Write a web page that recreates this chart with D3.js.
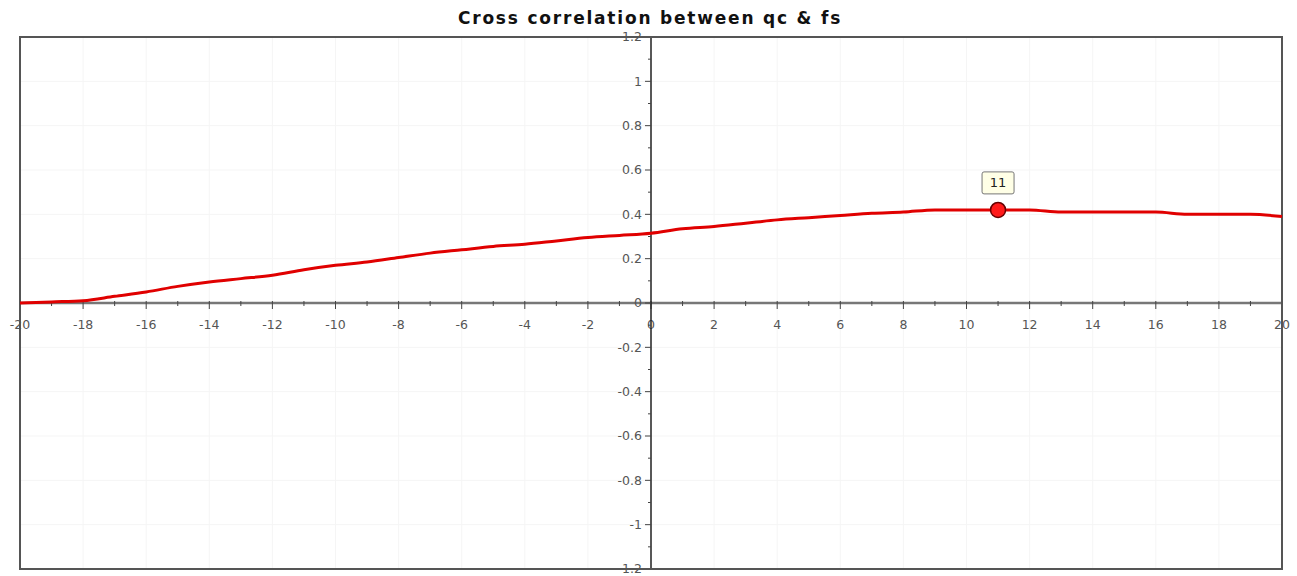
<!DOCTYPE html>
<html>
<head>
<meta charset="utf-8">
<script src="https://cdn.jsdelivr.net/npm/d3@7"></script>
<style>
  body { margin: 0; background: #fff; }
  text { font-family: "DejaVu Sans", Verdana, sans-serif; }
</style>
</head>
<body>
<script>
// lag values and cross correlation
var lags = d3.range(-20, 21);
var corr = [0.00, 0.005, 0.01, 0.03, 0.05, 0.075, 0.095, 0.11, 0.125, 0.15,
            0.17, 0.185, 0.205, 0.225, 0.24, 0.255, 0.265, 0.28, 0.295, 0.305,
            0.315, 0.335, 0.345, 0.36, 0.375, 0.385, 0.395, 0.405, 0.41, 0.42,
            0.42, 0.42, 0.42, 0.41, 0.41, 0.41, 0.41, 0.40, 0.40, 0.40, 0.39];
var markLag = 11;
var title = "Cross correlation between qc & fs";

var data = lags.map(function(l, i){ return {lag: l, r: corr[i]}; });

var W = 1297, H = 576,
    pl = 20, pr = 1282, pt = 37, pb = 569;

var svg = d3.select("body").append("svg")
    .attr("width", W).attr("height", H);

var x = d3.scaleLinear().domain([-20, 20]).range([pl, pr]);
var y = d3.scaleLinear().domain([-1.2, 1.2]).range([pb, pt]);

// faint grid
var grid = svg.append("g");
grid.selectAll("line.v").data(d3.range(-20, 21, 2)).enter().append("line")
    .attr("x1", d => x(d)).attr("x2", d => x(d))
    .attr("y1", pt).attr("y2", pb)
    .attr("stroke", "#f5f5f5");
grid.selectAll("line.h").data(d3.range(-12, 13, 2).map(d => d / 10)).enter().append("line")
    .attr("y1", d => y(d)).attr("y2", d => y(d))
    .attr("x1", pl).attr("x2", pr)
    .attr("stroke", "#f5f5f5");

// x axis through y = 0
var xa = svg.append("g").attr("transform", "translate(0," + y(0) + ")");
xa.append("line").attr("x1", pl).attr("x2", pr)
    .attr("stroke", "#777").attr("stroke-width", 2.5);
xa.selectAll("line.t").data(d3.range(-20, 21)).enter().append("line")
    .attr("x1", d => x(d)).attr("x2", d => x(d))
    .attr("y1", -2).attr("y2", d => d % 2 === 0 ? 6 : 3)
    .attr("stroke", "#444");
xa.selectAll("text").data(d3.range(-20, 21, 2)).enter().append("text")
    .attr("x", d => x(d)).attr("y", 26)
    .attr("text-anchor", "middle")
    .attr("font-size", 12.5).attr("fill", "#555")
    .text(d => String(d));

// y axis through x = 0
var ya = svg.append("g").attr("transform", "translate(" + x(0) + ",0)");
ya.append("line").attr("y1", pt).attr("y2", pb)
    .attr("stroke", "#222").attr("stroke-width", 1.5);
ya.selectAll("line.t").data(d3.range(-12, 13).map(d => d / 10)).enter().append("line")
    .attr("y1", d => y(d)).attr("y2", d => y(d))
    .attr("x1", d => Math.round(d * 10) % 2 === 0 ? -6 : -3).attr("x2", 0)
    .attr("stroke", "#444");
ya.selectAll("text").data(d3.range(-12, 13, 2).map(d => d / 10)).enter().append("text")
    .attr("x", -9).attr("y", d => y(d)).attr("dy", "0.35em")
    .attr("text-anchor", "end")
    .attr("font-size", 12.5).attr("fill", "#555")
    .text(d => String(d));

// plot border
svg.append("rect")
    .attr("x", pl).attr("y", pt)
    .attr("width", pr - pl).attr("height", pb - pt)
    .attr("fill", "none").attr("stroke", "#555").attr("stroke-width", 2);

// correlation line
svg.append("path").datum(data)
    .attr("fill", "none").attr("stroke", "#e00000").attr("stroke-width", 3)
    .attr("d", d3.line().x(d => x(d.lag)).y(d => y(d.r)).curve(d3.curveMonotoneX));

// highlighted point
var mp = data.find(d => d.lag === markLag);
svg.append("circle")
    .attr("cx", x(mp.lag)).attr("cy", y(mp.r)).attr("r", 7.5)
    .attr("fill", "#ff1a1a").attr("stroke", "#600").attr("stroke-width", 1.5);
var lb = svg.append("g").attr("transform", "translate(" + x(mp.lag) + "," + (y(mp.r) - 27) + ")");
lb.append("rect").attr("x", -16).attr("y", -11).attr("width", 32).attr("height", 22)
    .attr("rx", 2).attr("fill", "#ffffe6").attr("stroke", "#777");
lb.append("text").attr("text-anchor", "middle").attr("dy", "0.35em")
    .attr("font-size", 13).attr("font-family", "DejaVu Serif, serif").attr("fill", "#222")
    .text(mp.lag);

// title
svg.append("text")
    .attr("x", 650).attr("y", 24)
    .attr("text-anchor", "middle")
    .attr("font-size", 17).attr("font-weight", "bold").attr("fill", "#111")
    .attr("letter-spacing", 1.8)
    .text(title);
</script>
</body>
</html>
